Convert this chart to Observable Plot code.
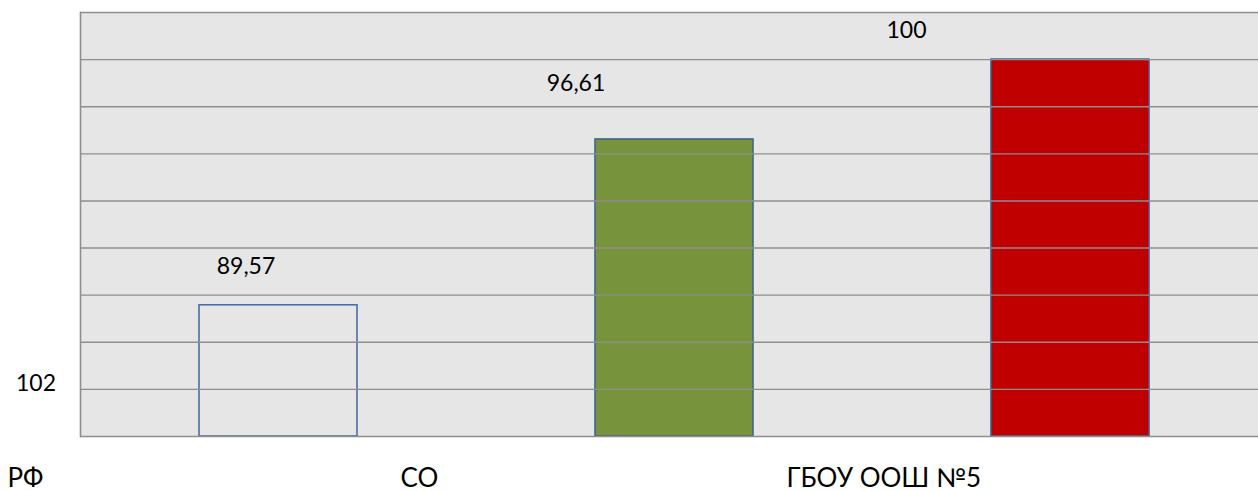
<!DOCTYPE html>
<html>
<head>
<meta charset="utf-8">
<script src="https://cdn.jsdelivr.net/npm/d3@7"></script>
<script src="https://cdn.jsdelivr.net/npm/@observablehq/plot@0.6"></script>
<style>
  html, body { margin: 0; padding: 0; background: #fff; overflow: hidden; }
  #chart svg { display: block; }
</style>
</head>
<body>
<div id="chart"></div>
<script>
// ---- data ----
const categories = ["РФ", "СО", "ГБОУ ООШ №5"];
const values = [89.57, 96.61, 100];
const yTicks = [84, 86, 88, 90, 92, 94, 96, 98, 100, 102];
const yTickLabels = ["102"];

const data = categories.map((c, i) => ({cat: c, value: values[i]}));
const fmt = v => String(v).replace(".", ",");

// ---- styles / layout (not data) ----
const fills = ["#e6e6e6", "#77933c", "#c00000"];
const strokes = ["#4a6fa0", "#44638c", "#3d5c8c"];
const valueLabelOffsets = [[-32.5, -39], [-98.5, -56], [-164, -28.5]];
const catLabelOffsets = [-271, -274, -284];
const font = "Lato, 'Open Sans', sans-serif";

const marks = [
  Plot.frame({fill: "#e6e6e6"}),
  Plot.barY(data, {
    x: "cat", y1: 84, y2: "value",
    fill: (d) => fills[categories.indexOf(d.cat)],
    stroke: (d) => strokes[categories.indexOf(d.cat)],
    strokeWidth: 1.6
  }),
  Plot.ruleY(yTicks, {stroke: "#8e8e8e", strokeWidth: 1.4}),
  Plot.frame({anchor: "left", stroke: "#8e8e8e", strokeWidth: 1.6}),
  ...valueLabelOffsets.map(([dx, dy], i) =>
    Plot.text(data, {
      filter: (d, j) => j === i,
      x: "cat", y: "value", text: d => fmt(d.value),
      dx, dy, fontSize: 23, fill: "#000", lineAnchor: "middle"
    })),
  ...catLabelOffsets.map((dx, i) =>
    Plot.text(categories, {
      filter: (d, j) => j === i,
      x: d => d, text: d => d, frameAnchor: "bottom",
      textAnchor: "start", lineAnchor: "middle",
      dx, dy: 42, fontSize: 26, fill: "#000"
    })),
  Plot.text(yTickLabels, {
    text: d => d, frameAnchor: "bottom-left",
    dx: -44.5, dy: -53, fontSize: 23, fill: "#000",
    textAnchor: "middle", lineAnchor: "middle"
  })
];

const chart = Plot.plot({
  width: 1258,
  height: 491,
  marginLeft: 80,
  marginRight: 0,
  marginTop: 12,
  marginBottom: 55,
  style: {fontFamily: font, background: "#fff", overflow: "visible"},
  x: {domain: categories, range: [80, 1268], paddingInner: 0.6, paddingOuter: 0.3, axis: null},
  y: {domain: [84, 102], range: [436, 12], axis: null},
  marks
});
document.getElementById("chart").appendChild(chart);
</script>
</body>
</html>
